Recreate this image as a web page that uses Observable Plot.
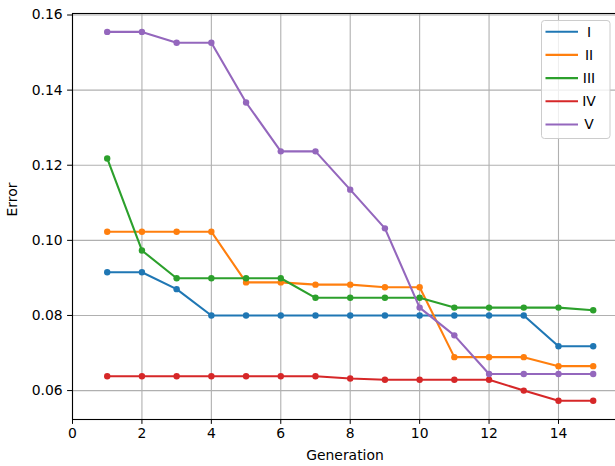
<!DOCTYPE html>
<html><head><meta charset="utf-8">
<script src="https://cdn.jsdelivr.net/npm/d3@7"></script>
<script src="https://cdn.jsdelivr.net/npm/@observablehq/plot@0.6"></script>
<style>html,body{margin:0;padding:0;background:#fff;overflow:hidden}</style>
</head><body><div id="chart"></div>
<script>
const generations = [1,2,3,4,5,6,7,8,9,10,11,12,13,14,15];
const seriesNames = ["I","II","III","IV","V"];
const seriesColors = ["#1f77b4","#ff7f0e","#2ca02c","#d62728","#9467bd"];
const errI   = [0.0915,0.0915,0.0870,0.0800,0.0800,0.0800,0.0800,0.0800,0.0800,0.0800,0.0800,0.0800,0.0800,0.0718,0.0718];
const errII  = [0.1023,0.1023,0.1023,0.1023,0.0888,0.0888,0.0882,0.0882,0.0875,0.0875,0.0689,0.0689,0.0689,0.0665,0.0665];
const errIII = [0.1218,0.0973,0.0899,0.0899,0.0899,0.0899,0.0847,0.0847,0.0847,0.0847,0.0821,0.0821,0.0821,0.0821,0.0814];
const errIV  = [0.0638,0.0638,0.0638,0.0638,0.0638,0.0638,0.0638,0.0632,0.0629,0.0629,0.0629,0.0629,0.0600,0.0573,0.0573];
const errV   = [0.1555,0.1555,0.1526,0.1526,0.1367,0.1237,0.1237,0.1135,0.1032,0.0821,0.0747,0.0644,0.0644,0.0644,0.0644];
const xTicks = [0,2,4,6,8,10,12,14];
const yTicks = [0.06,0.08,0.10,0.12,0.14,0.16];
const xLabel = "Generation";
const yLabel = "Error";

const allSeries = [errI, errII, errIII, errIV, errV];
const rows = [];
allSeries.forEach((vals, si) => vals.forEach((v, i) => rows.push({gen: generations[i], err: v, series: seriesNames[si]})));

const font = "'DejaVu Sans', sans-serif";
const seriesMarks = seriesNames.flatMap(name => {
  const d = rows.filter(r => r.series === name);
  return [
    Plot.line(d, {x: "gen", y: "err", stroke: "series", strokeWidth: 2.1}),
    Plot.dot(d, {x: "gen", y: "err", fill: "series", r: 3.2})
  ];
});

const plot = Plot.plot({
  width: 615, height: 466,
  marginLeft: 72, marginRight: -2, marginTop: 13, marginBottom: 47,
  style: {fontFamily: font, fontSize: "13.9px", color: "#000", background: "#fff", overflow: "hidden"},
  x: {domain: [0, 15.7]},
  y: {domain: [0.0523, 0.1604]},
  color: {domain: seriesNames, range: seriesColors},
  marks: [
    Plot.gridX(xTicks, {stroke: "#b0b0b0", strokeOpacity: 1, strokeWidth: 1.1}),
    Plot.gridY(yTicks, {stroke: "#b0b0b0", strokeOpacity: 1, strokeWidth: 1.1}),
    Plot.axisX(xTicks, {tickSize: 4.9, tickPadding: 4, label: null, tickFormat: d => String(d)}),
    Plot.axisY(yTicks, {tickSize: 4.9, tickPadding: 4.9, label: null, tickFormat: d => d.toFixed(2)}),
    Plot.frame({stroke: "#000", strokeWidth: 1.1}),
    ...seriesMarks,
    Plot.text([yLabel], {text: d => d, frameAnchor: "left", dx: -59.5, rotate: -90}),
    Plot.text([xLabel], {text: d => d, frameAnchor: "bottom", dy: 40})
  ]
});
document.getElementById("chart").appendChild(plot);

const svg = d3.select(plot);
const lg = svg.append("g").attr("font-family", font).attr("font-size", "13.9px");
lg.append("rect").attr("x", 541.5).attr("y", 20.5).attr("width", 68.5).attr("height", 118)
  .attr("rx", 3).attr("fill", "#fff").attr("fill-opacity", 0.8).attr("stroke", "#cccccc").attr("stroke-width", 1);
seriesNames.forEach((n, i) => {
  const y = 31.7 + i * 23.2;
  lg.append("line").attr("x1", 545.5).attr("x2", 578).attr("y1", y).attr("y2", y)
    .attr("stroke", seriesColors[i]).attr("stroke-width", 2.1);
  lg.append("text").attr("x", 589).attr("y", y).attr("dy", "0.35em").attr("fill", "#000").text(n);
});
</script></body></html>
